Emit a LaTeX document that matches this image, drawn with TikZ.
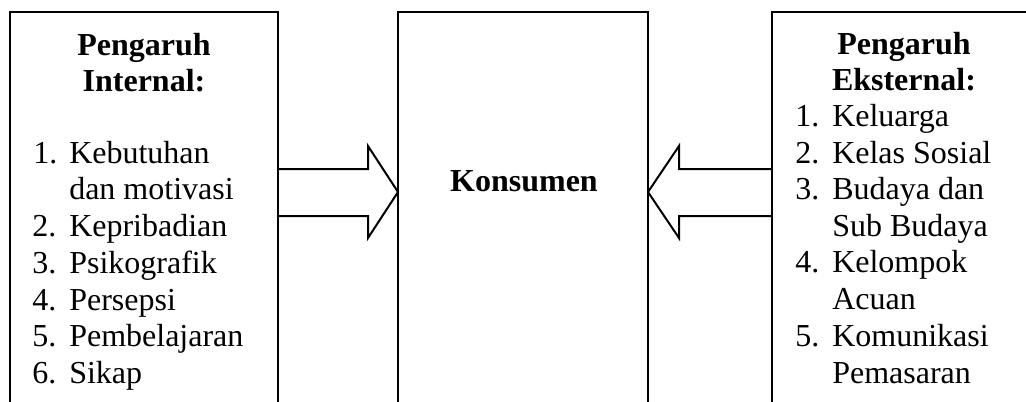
\documentclass[tikz,border=0pt]{standalone}
\usepackage{fontspec}
\setmainfont{Liberation Serif}
\begin{document}
\begin{tikzpicture}[x=0.75pt,y=-0.75pt,
  frame/.style={line width=1.5pt,line join=miter},
  txt/.style={inner sep=0pt,anchor=base west,font=\fontsize{24}{27}\selectfont},
  head/.style={inner sep=0pt,anchor=base,font=\fontsize{24}{27}\selectfont\bfseries}]
\clip (0,0) rectangle (1026,401);
% boxes (open at the bottom)
\coordinate (L1) at (10,410); \coordinate (L2) at (10,12);
\coordinate (L3) at (278,12); \coordinate (L4) at (278,410);
\draw[frame] (L1) -- (L2) -- (L3) -- (L4);
\coordinate (M1) at (398,410); \coordinate (M2) at (398,12);
\coordinate (M3) at (648,12); \coordinate (M4) at (648,410);
\draw[frame] (M1) -- (M2) -- (M3) -- (M4);
\coordinate (R1) at (772,410); \coordinate (R2) at (772,12);
\coordinate (R3) at (1040,12);
\draw[frame] (R1) -- (R2) -- (R3);
% block arrows
\draw[frame] (278,169) -- (368,169) -- (368,146) -- (398,192) -- (368,238) -- (368,216) -- (278,216);
\draw[frame] (772,169) -- (679,169) -- (679,146) -- (648,192) -- (679,238) -- (679,216) -- (772,216);
% centre
\node[head] (kons) at (524,191) {Konsumen};
% left box
\node[head] (lh1) at (144,55) {Pengaruh};
\node[head] (lh2) at (144,91) {Internal:};
\node[txt] (ln1) at (33,163) {1.};  \node[txt] (lt1) at (69,163) {Kebutuhan};
\node[txt] (lt1b) at (69,199) {dan motivasi};
\node[txt] (ln2) at (32,236) {2.};  \node[txt] (lt2) at (69,236) {Kepribadian};
\node[txt] (ln3) at (32,273) {3.};  \node[txt] (lt3) at (69,273) {Psikografik};
\node[txt] (ln4) at (32,310) {4.};  \node[txt] (lt4) at (69,310) {Persepsi};
\node[txt] (ln5) at (32,346) {5.};  \node[txt] (lt5) at (69,346) {Pembelajaran};
\node[txt] (ln6) at (32,383) {6.};  \node[txt] (lt6) at (69,383) {Sikap};
% right box
\node[head] (rh1) at (904,54) {Pengaruh};
\node[head] (rh2) at (904,90) {Eksternal:};
\node[txt] (rn1) at (795,126) {1.};  \node[txt] (rt1) at (832,126) {Keluarga};
\node[txt] (rn2) at (795,163) {2.};  \node[txt] (rt2) at (832,163) {Kelas Sosial};
\node[txt] (rn3) at (795,199) {3.};  \node[txt] (rt3) at (832,199) {Budaya dan};
\node[txt] (rt3b) at (832,236) {Sub Budaya};
\node[txt] (rn4) at (795,272) {4.};  \node[txt] (rt4) at (832,272) {Kelompok};
\node[txt] (rt4b) at (832,309) {Acuan};
\node[txt] (rn5) at (795,346) {5.};  \node[txt] (rt5) at (832,346) {Komunikasi};
\node[txt] (rt5b) at (832,383) {Pemasaran};
\end{tikzpicture}
\end{document}
